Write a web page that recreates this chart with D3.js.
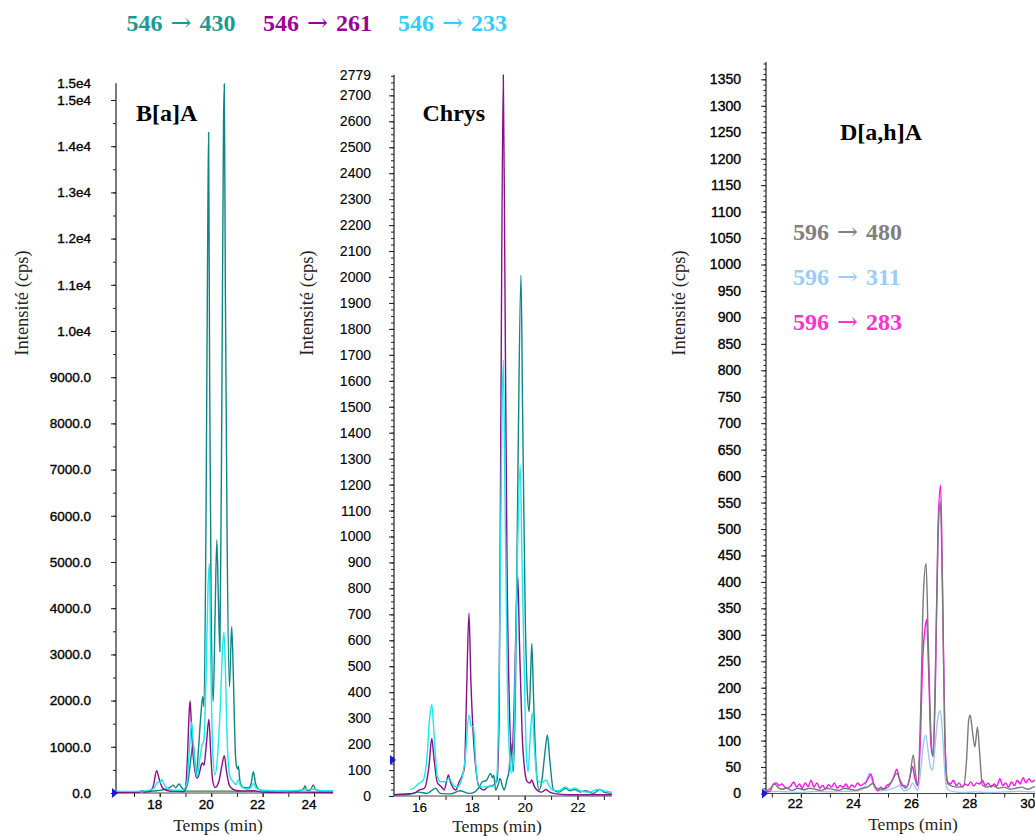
<!DOCTYPE html>
<html><head><meta charset="utf-8">
<script src="https://cdn.jsdelivr.net/npm/d3@7"></script>
<style>body{margin:0;background:#fff}svg{display:block}</style>
</head><body><svg id="c" width="1035" height="836"></svg>
<script>
// ---------- DATA ----------
// Panel 1 : B[a]A  (time min, intensity cps)
const baa430 = [[16.30,20],[16.8,25],[17.3,30],[17.6,35],[17.9,50],[18.1,70],[18.3,90],[18.45,140],[18.53,170],[18.62,110],[18.75,195],[18.85,120],[18.98,65],[19.1,250],[19.2,700],[19.3,1070],[19.36,700],[19.41,350],[19.5,900],[19.6,1700],[19.67,2085],[19.72,1870],[19.8,6000],[19.87,12500],[19.90,14300],[19.94,9000],[20.0,4000],[20.08,1976],[20.15,3800],[20.22,5476],[20.28,4200],[20.34,3058],[20.42,9000],[20.48,14500],[20.51,15350],[20.55,11000],[20.62,5500],[20.71,2300],[20.76,3100],[20.80,3600],[20.86,2600],[20.93,1000],[20.99,560],[21.03,520],[21.06,580],[21.12,250],[21.25,120],[21.45,110],[21.55,200],[21.64,460],[21.72,220],[21.85,80],[22.0,50],[22.3,40],[22.7,50],[23.0,40],[23.4,45],[23.6,100],[23.65,160],[23.72,60],[23.85,60],[23.97,175],[24.05,80],[24.2,45],[24.5,40],[24.74,40]];
const baa261 = [[16.30,10],[16.8,15],[17.2,20],[17.32,50],[17.4,20],[17.6,30],[17.75,150],[17.88,480],[17.98,300],[18.1,120],[18.3,50],[18.6,40],[18.9,30],[19.0,100],[19.08,800],[19.14,1700],[19.18,2000],[19.23,1500],[19.3,800],[19.38,450],[19.46,318],[19.55,450],[19.62,620],[19.67,650],[19.72,600],[19.82,1100],[19.91,1600],[19.98,900],[20.05,300],[20.15,120],[20.3,250],[20.42,600],[20.51,810],[20.6,450],[20.7,180],[20.80,100],[20.95,60],[21.2,40],[21.6,50],[22.0,20],[22.5,15],[23.0,20],[24.0,15],[24.74,10]];
const baa233 = [[16.30,40],[16.8,35],[17.3,40],[17.6,60],[17.8,120],[17.95,245],[18.02,220],[18.08,300],[18.18,180],[18.35,80],[18.6,60],[18.9,60],[19.05,200],[19.15,900],[19.24,1540],[19.3,1100],[19.38,550],[19.46,350],[19.55,700],[19.65,1050],[19.72,1150],[19.8,2500],[19.88,4500],[19.93,4970],[19.98,3000],[20.06,900],[20.15,390],[20.25,800],[20.35,1800],[20.45,3200],[20.50,3480],[20.56,2500],[20.64,900],[20.73,350],[20.85,250],[20.95,180],[21.06,280],[21.15,150],[21.4,80],[21.55,120],[21.64,210],[21.75,100],[22.0,60],[22.5,50],[23.0,50],[23.65,70],[23.97,80],[24.3,50],[24.74,50]];
const baaBase = [[18.4,40],[21.7,40]];

// Panel 2 : Chrys
const chr430 = [[15.05,5],[15.5,5],[16.0,15],[16.3,10],[16.63,30],[16.8,10],[17.2,8],[17.55,20],[17.9,10],[18.1,15],[18.25,30],[18.4,55],[18.55,60],[18.71,87],[18.78,70],[18.83,80],[18.9,23],[19.0,45],[19.07,68],[19.15,40],[19.22,23],[19.32,60],[19.41,100],[19.48,203],[19.53,130],[19.57,94],[19.65,400],[19.75,1300],[19.86,2007],[19.92,1500],[20.02,700],[20.1,400],[20.17,325],[20.22,450],[20.27,588],[20.33,400],[20.43,120],[20.55,23],[20.65,60],[20.76,160],[20.86,235],[20.95,140],[21.09,23],[21.3,15],[21.55,30],[21.7,20],[21.9,25],[22.1,15],[22.3,20],[22.6,10],[22.85,25],[23.0,15],[23.3,10]];
const chr261 = [[15.05,5],[15.5,8],[15.8,10],[16.0,23],[16.2,30],[16.38,120],[16.48,222],[16.56,150],[16.69,52],[16.85,35],[16.95,23],[17.05,60],[17.11,81],[17.2,50],[17.3,30],[17.39,23],[17.5,50],[17.64,81],[17.72,110],[17.8,400],[17.89,704],[17.96,450],[18.08,190],[18.18,80],[18.27,36],[18.46,23],[18.6,35],[18.8,40],[18.95,60],[19.03,300],[19.1,1500],[19.19,2779],[19.25,2000],[19.33,900],[19.42,350],[19.51,158],[19.6,350],[19.68,700],[19.74,845],[19.8,600],[19.9,250],[20.0,100],[20.1,55],[20.2,50],[20.27,62],[20.35,40],[20.5,20],[20.65,15],[20.8,25],[20.95,15],[21.2,8],[21.6,5],[22.0,5],[22.5,5],[23.0,5],[23.3,5]];
const chr233 = [[15.65,25],[15.8,30],[15.95,45],[16.04,51],[16.15,60],[16.3,150],[16.4,300],[16.48,353],[16.56,250],[16.69,75],[16.8,55],[17.0,55],[17.14,70],[17.3,40],[17.45,35],[17.64,75],[17.75,150],[17.89,312],[17.97,270],[18.06,267],[18.15,120],[18.27,36],[18.5,35],[18.7,36],[18.85,40],[18.95,80],[19.05,600],[19.12,1300],[19.19,1680],[19.26,1100],[19.35,400],[19.45,120],[19.51,87],[19.6,250],[19.72,900],[19.83,1275],[19.9,900],[20.0,400],[20.07,150],[20.13,94],[20.22,250],[20.29,321],[20.36,200],[20.48,62],[20.65,50],[20.8,62],[20.92,40],[21.05,23],[21.3,20],[21.55,35],[21.7,25],[21.9,30],[22.1,20],[22.4,15],[22.8,25],[23.0,20],[23.3,15]];

// Panel 3 : D[a,h]A
const dah480 = [[20.8,5],[20.95,10],[21.1,18],[21.2,12],[21.35,8],[21.5,10],[21.7,6],[21.9,10],[22.1,7],[22.3,10],[22.5,8],[22.7,6],[22.9,10],[23.1,8],[23.3,6],[23.5,10],[23.7,8],[23.9,6],[24.1,10],[24.3,12],[24.47,19],[24.6,10],[24.8,8],[25.0,12],[25.15,25],[25.30,38],[25.42,25],[25.6,10],[25.75,30],[25.87,73],[25.95,35],[26.02,16],[26.12,150],[26.22,380],[26.31,435],[26.38,300],[26.48,110],[26.55,71],[26.62,200],[26.72,480],[26.80,552],[26.87,400],[26.95,120],[27.05,19],[27.2,14],[27.4,12],[27.6,14],[27.7,60],[27.78,140],[27.83,148],[27.9,120],[27.99,88],[28.08,126],[28.15,80],[28.25,16],[28.4,12],[28.6,15],[28.8,10],[29.0,12],[29.2,8],[29.4,10],[29.6,12],[29.8,8],[30.0,12],[30.2,15],[30.4,10]];
const dah311 = [[20.8,2],[21.2,4],[21.6,3],[22.0,2],[22.5,4],[23.0,3],[23.5,4],[24.0,5],[24.2,12],[24.35,38],[24.45,25],[24.6,5],[24.9,6],[25.2,10],[25.4,15],[25.55,5],[25.75,10],[25.85,20],[25.95,10],[26.02,6],[26.12,40],[26.22,95],[26.30,110],[26.38,80],[26.47,48],[26.53,44],[26.62,90],[26.72,145],[26.80,157],[26.88,110],[26.97,30],[27.05,8],[27.3,3],[27.6,2],[28.0,3],[28.5,2],[29.0,3],[29.5,4],[30.0,3],[30.4,3]];
const dah283 = [[20.8,3],[20.95,5],[21.05,18],[21.15,20],[21.25,15],[21.35,18],[21.45,12],[21.55,10],[21.65,14],[21.75,22],[21.85,12],[21.95,18],[22.05,10],[22.15,20],[22.25,13],[22.35,25],[22.45,12],[22.55,20],[22.65,10],[22.75,15],[22.85,8],[22.95,17],[23.05,12],[23.15,20],[23.25,10],[23.35,15],[23.45,12],[23.55,18],[23.65,10],[23.75,16],[23.85,12],[23.95,20],[24.05,15],[24.15,18],[24.25,22],[24.33,30],[24.41,37],[24.5,20],[24.58,10],[24.65,5],[24.75,12],[24.85,8],[24.95,15],[25.05,18],[25.15,25],[25.22,35],[25.30,46],[25.38,30],[25.47,15],[25.55,15],[25.65,12],[25.75,30],[25.84,51],[25.92,30],[26.02,14],[26.1,80],[26.2,260],[26.27,310],[26.33,329],[26.4,230],[26.48,90],[26.55,70],[26.63,200],[26.72,500],[26.81,583],[26.88,380],[26.96,100],[27.05,22],[27.15,18],[27.25,25],[27.35,15],[27.45,20],[27.55,12],[27.65,18],[27.75,15],[27.85,22],[27.95,14],[28.05,20],[28.15,18],[28.25,25],[28.35,15],[28.45,20],[28.55,12],[28.65,18],[28.75,14],[28.85,28],[28.95,15],[29.05,20],[29.15,12],[29.25,22],[29.35,15],[29.45,25],[29.55,18],[29.65,30],[29.75,20],[29.85,28],[29.95,22],[30.05,25],[30.15,30],[30.3,22]];

// tick values / labels
const baaYTicks = d3.range(0, 15001, 1000);
const baaYMax = 15360;
const chrYTicks = d3.range(0, 2701, 100);
const chrYMax = 2779;
const dahYTicks = d3.range(0, 1351, 50);
const dahYMax = 1383;
const baaXTicks = [18, 20, 22, 24];
const chrXTicks = [16, 18, 20, 22];
const dahXTicks = [22, 24, 26, 28, 30];

// legend entries: [precursor, product]
const topLegend = [["546", "430"], ["546", "261"], ["546", "233"]];
const dahLegend = [["596", "480"], ["596", "311"], ["596", "283"]];
const titles = ["B[a]A", "Chrys", "D[a,h]A"];
const yTitle = "Intensité (cps)";
const xTitle = "Temps (min)";

// ---------- DRAWING ----------
const svg = d3.select('#c');
svg.append('rect').attr('width', 1035).attr('height', 836).attr('fill', '#fff');
const SANS = "'Liberation Sans', Arial, sans-serif";
const SERIF = "'Liberation Serif', 'Times New Roman', serif";

function panel(p) {
  const x = d3.scaleLinear().domain(p.xDomain).range(p.xRange);
  const y = d3.scaleLinear().domain([0, p.yMax]).range(p.yRange);
  const g = svg.append('g');
  const x0 = p.xRange[0];

  g.append('g').attr('transform', `translate(${x0},0)`)
    .call(d3.axisLeft(y).tickValues(d3.range(0, p.yMax, p.yMinor)).tickSize(p.minorLen).tickFormat(''))
    .call(s => { s.select('.domain').remove(); s.selectAll('line').attr('stroke', '#222'); });
  g.append('g').attr('transform', `translate(${x0},0)`)
    .call(d3.axisLeft(y).tickValues(p.yTicks).tickSize(5).tickPadding(p.yPad).tickFormat(p.yFmt))
    .call(s => {
      s.select('.domain').remove();
      s.selectAll('line').attr('stroke', '#222');
      s.selectAll('text').attr('font-family', SANS).attr('font-size', p.tickFont)
        .attr('fill', '#000').attr('stroke', '#000').attr('stroke-width', p.tickStroke);
    });
  if (p.topLabel) {
    g.append('text').attr('x', x0 - 5 - p.yPad).attr('y', y(p.yMax)).attr('dy', '0.35em')
      .attr('text-anchor', 'end').attr('font-family', SANS).attr('font-size', p.tickFont)
      .attr('fill', '#000').attr('stroke', '#000').attr('stroke-width', p.tickStroke).text(p.topLabel);
  }
  g.append('line').attr('x1', x0).attr('x2', x0).attr('y1', y(0)).attr('y2', y(p.yMax))
    .attr('stroke', '#222').attr('stroke-width', 1.2);

  const xm = d3.range(Math.ceil(p.xDomain[0]), Math.floor(p.xDomain[1]) + 1, 1);
  g.append('g').attr('transform', `translate(0,${y(0)})`)
    .call(d3.axisBottom(x).tickValues(xm).tickSize(4).tickFormat(''))
    .call(s => { s.select('.domain').remove(); s.selectAll('line').attr('stroke', '#222'); });
  g.append('g').attr('transform', `translate(0,${y(0)})`)
    .call(d3.axisBottom(x).tickValues(p.xTicks).tickSize(4).tickPadding(p.xPad).tickFormat(d3.format('d')))
    .call(s => {
      s.select('.domain').remove();
      s.selectAll('line').attr('stroke', '#222');
      s.selectAll('text').attr('font-family', SANS).attr('font-size', 13.5)
        .attr('fill', '#000').attr('stroke', '#000').attr('stroke-width', p.tickStroke).attr('dx', p.xLabelDx);
    });
  g.append('line').attr('x1', x0).attr('x2', p.xRange[1]).attr('y1', y(0)).attr('y2', y(0))
    .attr('stroke', '#444').attr('stroke-width', 1);

  const line = d3.line().x(d => x(d[0])).y(d => y(d[1])).curve(d3.curveMonotoneX);
  p.series.forEach(s => {
    g.append('path').datum(s.data).attr('d', line).attr('fill', 'none')
      .attr('stroke', s.color).attr('stroke-width', s.width || 1.4)
      .attr('stroke-linejoin', 'round');
  });

  const ty = y(p.marker);
  g.append('path').attr('d', `M${x0 - 4},${ty - 5}L${x0 + 2},${ty}L${x0 - 4},${ty + 5}Z`).attr('fill', '#1a1ad0');

  g.append('text').attr('transform', `translate(${p.yTitleX},303) rotate(-90)`)
    .attr('text-anchor', 'middle').attr('font-family', SERIF).attr('font-size', 18.5)
    .attr('fill', '#222').text(yTitle);
  g.append('text').attr('x', p.xTitleX).attr('y', p.xTitleY).attr('text-anchor', 'middle')
    .attr('font-family', SERIF).attr('font-size', 17.5).attr('fill', '#222').text(xTitle);
  g.append('text').attr('x', p.titleX).attr('y', p.titleY).attr('font-family', SERIF)
    .attr('font-weight', 'bold').attr('font-size', 24).attr('fill', '#000').text(p.title);
}

const fmtBaA = v => v >= 10000 ? (v / 1e4).toFixed(1) + 'e4' : v.toFixed(1);

panel({
  xDomain: [16.30, 24.74], xRange: [116, 333.1], yMax: baaYMax, yRange: [793, 793 - baaYMax * 0.0462],
  yTicks: baaYTicks, yFmt: fmtBaA, yMinor: 500, minorLen: 3, yPad: 20, topLabel: '1.5e4',
  xTicks: baaXTicks, xPad: 2, xLabelDx: -5.5, tickFont: 13.5, tickStroke: 0.35,
  series: [
    { data: baaBase, color: '#2a8a2a', width: 1.2 },
    { data: baa430, color: '#108585' },
    { data: baa261, color: '#86108a' },
    { data: baa233, color: '#19e8ef' }
  ],
  marker: 0, yTitleX: 27.5, xTitleX: 218, xTitleY: 831, titleX: 136, titleY: 121, title: titles[0]
});
panel({
  xDomain: [15.05, 23.30], xRange: [394, 611.8], yMax: chrYMax, yRange: [796, 796 - chrYMax * 0.2595],
  yTicks: chrYTicks, yFmt: d3.format('d'), yMinor: 25, minorLen: 3, yPad: 18, topLabel: '2779',
  xTicks: chrXTicks, xPad: 2, xLabelDx: 0, tickFont: 14, tickStroke: 0.1,
  series: [
    { data: chr430, color: '#108585' },
    { data: chr261, color: '#86108a' },
    { data: chr233, color: '#19e8ef' }
  ],
  marker: 139, yTitleX: 313, xTitleX: 497, xTitleY: 832, titleX: 422.5, titleY: 121, title: titles[1]
});
panel({
  xDomain: [20.8, 30.6], xRange: [766, 766 + 9.8 * 29.05], yMax: dahYMax, yRange: [793.5, 793.5 - dahYMax * 0.529],
  yTicks: dahYTicks, yFmt: d3.format('d'), yMinor: 10, minorLen: 2.5, yPad: 20, topLabel: null,
  xTicks: dahXTicks, xPad: 1, xLabelDx: -6, tickFont: 14, tickStroke: 0.35,
  series: [
    { data: dah311, color: '#9cc8f0' },
    { data: dah283, color: '#ff10f0' },
    { data: dah480, color: '#7a7a7a' }
  ],
  marker: 0, yTitleX: 685, xTitleX: 913, xTitleY: 830, titleX: 840, titleY: 139.5, title: titles[2]
});

function legendText(sel, pair) {
  sel.append('tspan').text(pair[0] + ' ');
  sel.append('tspan').attr('font-family', "'DejaVu Serif', 'DejaVu Sans', serif").attr('font-weight', 'normal')
    .attr('font-size', 25).attr('dx', 2).text('\u2192');
  sel.append('tspan').attr('dx', 2).text(' ' + pair[1]);
}
const topColors = ['#1a9a96', '#990099', '#33ccff'];
const topX = [126.5, 263, 398];
topLegend.forEach((t, i) => {
  svg.append('text').attr('x', topX[i]).attr('y', 31).attr('font-family', SERIF).attr('font-weight', 'bold')
    .attr('font-size', 24).attr('fill', topColors[i]).call(legendText, t);
});
const dahColors = ['#808080', '#99ccff', '#ff33cc'];
const dahY = [240, 285, 330];
dahLegend.forEach((t, i) => {
  svg.append('text').attr('x', 793).attr('y', dahY[i]).attr('font-family', SERIF).attr('font-weight', 'bold')
    .attr('font-size', 24).attr('fill', dahColors[i]).call(legendText, t);
});
</script></body></html>
